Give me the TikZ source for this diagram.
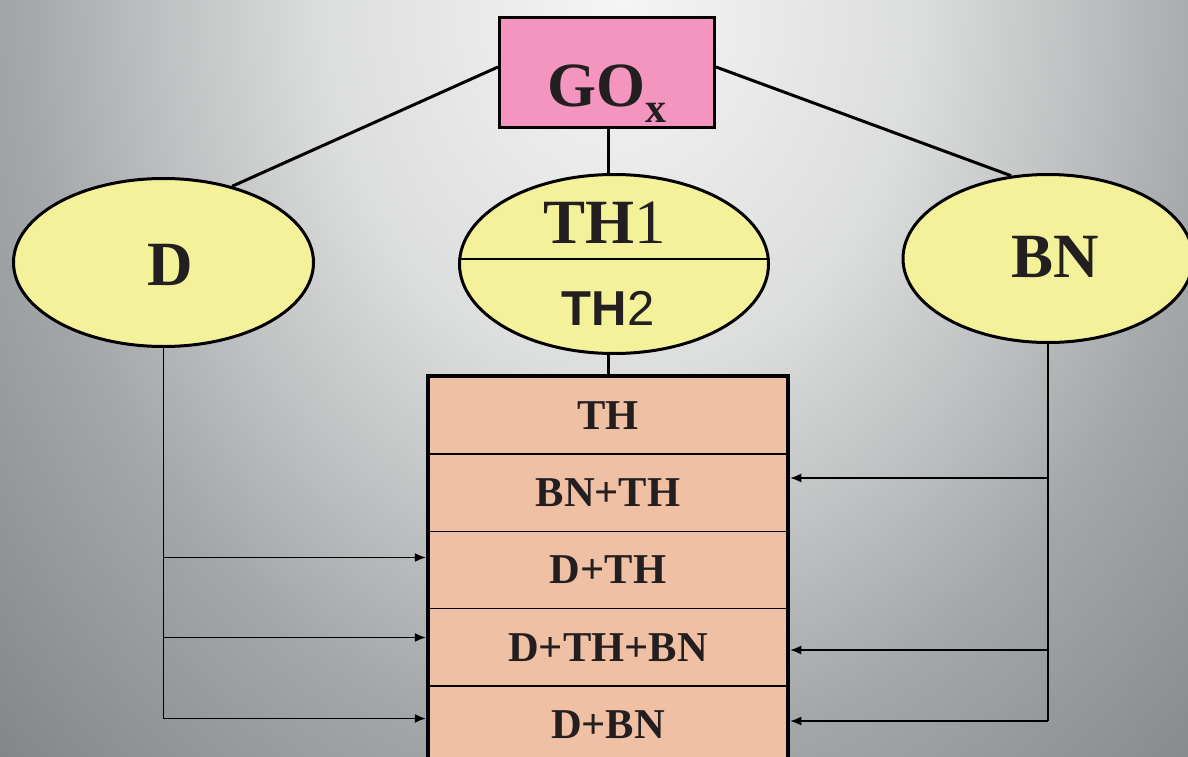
\documentclass[tikz,border=0pt]{standalone}
\usepackage{fontspec}
\setmainfont{Liberation Serif}
\newfontfamily\arialf{Liberation Sans}
\usetikzlibrary{shapes.geometric,arrows.meta}
\definecolor{bgzero}{HTML}{F5F5F5}
\definecolor{bgone}{HTML}{DCDDDD}
\definecolor{bgtwo}{HTML}{A4A7A9}
\definecolor{bgthree}{HTML}{7F8284}
\definecolor{pinkbox}{HTML}{F395BF}
\definecolor{yellowell}{HTML}{F3F199}
\definecolor{salmon}{HTML}{EFC0A4}
\definecolor{ink}{HTML}{231F20}
\pgfdeclareradialshading{bgrad}{\pgfpoint{0bp}{0bp}}{color(0bp)=(bgzero); color(8.33bp)=(bgone); color(16.67bp)=(bgtwo); color(25bp)=(bgthree); color(50bp)=(bgthree)}
\tikzset{
  heavy/.style={line width=3pt, draw=black},
  thinline/.style={line width=1.5pt, draw=black},
  ell/.style={ellipse, draw=black, line width=3pt, fill=yellowell, inner sep=0pt},
  rowbox/.style={rectangle, draw=black, line width=1.5pt, fill=salmon, minimum width=358pt, minimum height=77.2pt, inner sep=0pt, text=ink, font=\fontsize{42.5}{42.5}\selectfont\bfseries},
  bigtext/.style={anchor=base, text=ink, inner sep=0pt},
  arr/.style={thinline, -{Latex[length=11pt,width=9pt]}, shorten >=2.5pt}
}
\begin{document}
\begin{tikzpicture}[x=1pt,y=-1pt]
\useasboundingbox (0,0) rectangle (1188,757);
\begin{scope}
\clip (0,0) rectangle (1188,757);
\shade[shading=bgrad] (620,0) ellipse [x radius=900, y radius=1135];

% top box
\node[rectangle, heavy, fill=pinkbox, minimum width=215pt, minimum height=110pt, inner sep=0pt] (go) at (607,72.5) {};
\node[bigtext] (golabel) at (607,107) {\fontsize{63}{63}\selectfont\bfseries GO\raisebox{-16pt}{\fontsize{42}{42}\selectfont x}};

% ellipses
\node[ell, minimum width=300pt, minimum height=168pt] (D) at (163.5,262.5) {};
\node[ell, minimum width=309pt, minimum height=179pt] (TH) at (614,264) {};
\node[ell, minimum width=290pt, minimum height=168pt] (BN) at (1048,258.5) {};

\node[bigtext] (Dlabel) at (170,285) {\fontsize{63}{63}\selectfont\bfseries D};
\node[bigtext] (BNlabel) at (1055,277) {\fontsize{63}{63}\selectfont\bfseries BN};
\coordinate (div) at (614,259);
\draw[thinline] ([xshift=1.5pt]TH.west |- div) -- ([xshift=-1.5pt]TH.east |- div);
\node[bigtext] (TH1label) at (605,243.5) {\fontsize{63}{63}\selectfont{\bfseries TH}1};
\node[bigtext] (TH2label) at (608,325.5) {\arialf\fontsize{49}{49}\selectfont{\bfseries TH}2};

% connectors from top box
\draw[heavy] ([yshift=5.5pt]go.west) -- (D.48);
\draw[heavy] ([yshift=5.5pt]go.east) -- (BN.114.5);
\draw[heavy] ([xshift=1.5pt]go.south) -- ([xshift=1.5pt]go.south |- TH.north);

% table
\node[rowbox] (r1) at (608,415.6) {TH};
\node[rowbox] (r2) at (608,492.8) {BN+TH};
\node[rowbox] (r3) at (608,570.0) {D+TH};
\node[rowbox] (r4) at (608,647.2) {D+TH+BN};
\node[rowbox] (r5) at (608,724.4) {D+BN};
\draw[line width=4pt, line cap=rect] (r5.south west) -- (r1.north west) -- (r1.north east) -- (r5.south east);
\draw[heavy] (r1.north |- TH.south) -- (r1.north);

% D branch
\coordinate (dA) at (163.5,557.5);
\coordinate (dB) at (163.5,637.5);
\coordinate (dC) at (163.5,718.5);
\draw[thinline] (D.south) -- (dC);
\draw[arr] (dA) -- (dA -| r3.west);
\draw[arr] (dB) -- (dB -| r4.west);
\draw[arr] (dC) -- (dC -| r5.west);

% BN branch
\coordinate (bA) at (1048,478);
\coordinate (bB) at (1048,650);
\coordinate (bC) at (1048,721);
\draw[thinline] (BN.south) -- (bC);
\draw[arr] (bA) -- (bA -| r2.east);
\draw[arr] (bB) -- (bB -| r4.east);
\draw[arr] (bC) -- (bC -| r5.east);
\end{scope}
\end{tikzpicture}
\end{document}
